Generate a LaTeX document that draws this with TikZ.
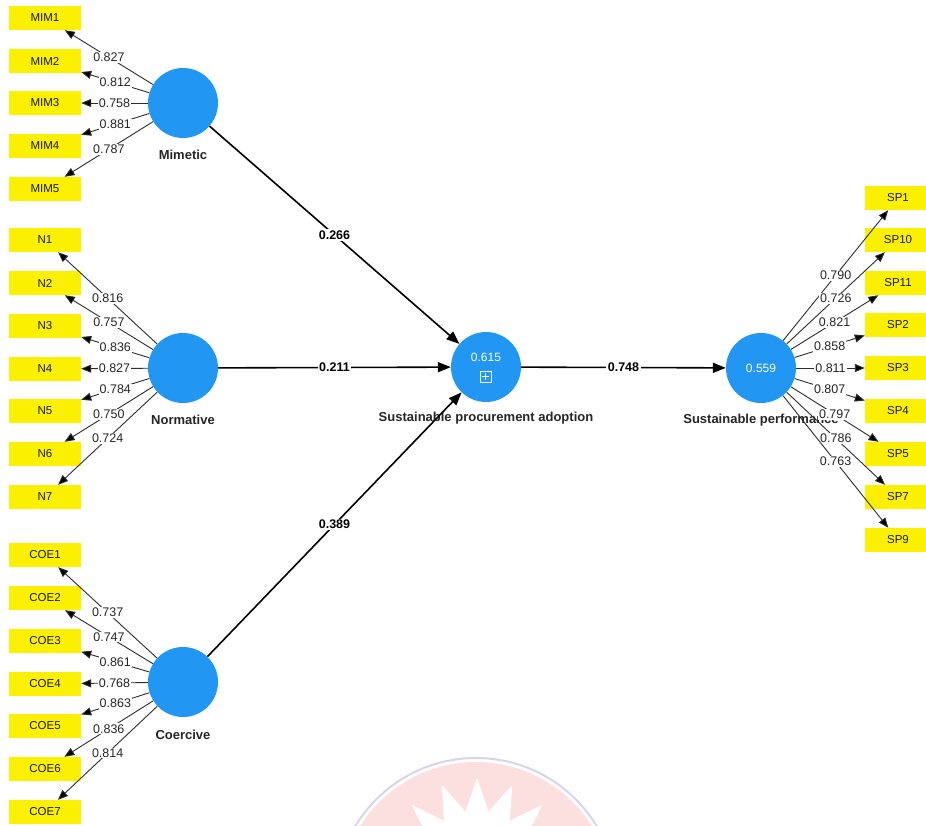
\documentclass[tikz,border=0pt]{standalone}
\usepackage{fontspec}
\setmainfont{Liberation Sans}
\usetikzlibrary{arrows.meta,shapes.geometric}
\definecolor{lvblue}{RGB}{33,150,243}
\definecolor{indyel}{RGB}{250,240,0}
\definecolor{wmpink}{RGB}{252,224,224}
\definecolor{wmring}{RGB}{214,214,232}
\definecolor{loadgray}{RGB}{45,45,45}
\begin{document}
\begin{tikzpicture}[x=1pt,y=-1pt,
  lv/.style={circle,fill=lvblue,minimum size=70pt,inner sep=0pt},
  ind/.style={rectangle,fill=indyel,minimum width=72pt,minimum height=24pt,inner sep=0pt,font=\fontsize{11.5}{12}\selectfont,text=black!90},
  spind/.style={ind,minimum width=66pt},
  loadarrow/.style={draw=loadgray,line width=0.9pt,-{Triangle[length=10pt,width=8pt,fill=black]}},
  loadlab/.style={fill=white,inner sep=1pt,font=\fontsize{12.5}{13}\selectfont,text=black!85},
  structarrow/.style={draw=black,line width=1.6pt,-{Triangle[length=13pt,width=10pt]}},
  structlab/.style={fill=white,inner sep=1.5pt,font=\bfseries\fontsize{12.5}{13}\selectfont},
  lvlab/.style={font=\bfseries\fontsize{13}{14}\selectfont,text=black!85},
  lvval/.style={font=\fontsize{12}{13}\selectfont,text=white}
]
\useasboundingbox (0,0) rectangle (926,825);
\clip (0,0) rectangle (926,825);
\fill[white] (0,0) rectangle (926,825);

% watermark
\fill[wmpink] (476,899) circle (137);
\draw[wmring,line width=2pt] (476,899) circle (141);
\node[star,star points=16,star point ratio=1.55,fill=white,minimum size=184pt,inner sep=0pt] (wmstar) at (477,870) {};

% latent variables
\node[lv] (mim) at (183,103) {};
\node[lv] (nor) at (183,368) {};
\node[lv] (coe) at (183,682) {};
\node[lv] (spa) at (486,367) {};
\node[lv] (sp) at (761,368) {};

\node[lvval] (spaval) at (486,357) {0.615};
\draw[white,line width=0.8pt] (480,371) rectangle (491,382);
\draw[white,line width=0.8pt] (485.5,373) -- (485.5,380) (482,376.5) -- (489,376.5);
\node[lvval] (spval) at (761,368) {0.559};

\node[lvlab] (mimlab) at (183,155) {Mimetic};
\node[lvlab] (norlab) at (183,420) {Normative};
\node[lvlab] (coelab) at (183,735) {Coercive};
\node[lvlab] (spalab) at (486,418) {Sustainable procurement adoption};
\node[lvlab] (splab) at (761,420) {Sustainable performance};

% indicators
\foreach \i/\y in {1/18,2/61,3/103,4/146,5/189}
  \node[ind] (MIM\i) at (45,\y) {MIM\i};
\foreach \i/\y in {1/240,2/283,3/326,4/369,5/411,6/454,7/497}
  \node[ind] (N\i) at (45,\y) {N\i};
\foreach \i/\y in {1/555,2/598,3/641,4/684,5/726,6/769,7/812}
  \node[ind] (COE\i) at (45,\y) {COE\i};
\foreach \n/\y in {1/198,10/240,11/283,2/325,3/368,4/411,5/454,7/497,9/540}
  \node[spind] (SP\n) at (898,\y) {SP\n};

% loadings
\foreach \i/\v in {1/0.827,2/0.812,3/0.758,4/0.881,5/0.787}
  \draw[loadarrow] (mim) -- node[loadlab] {\v} (MIM\i);
\foreach \i/\v in {1/0.816,2/0.757,3/0.836,4/0.827,5/0.784,6/0.750,7/0.724}
  \draw[loadarrow] (nor) -- node[loadlab] {\v} (N\i);
\foreach \i/\v in {1/0.737,2/0.747,3/0.861,4/0.768,5/0.863,6/0.836,7/0.814}
  \draw[loadarrow] (coe) -- node[loadlab] {\v} (COE\i);
\foreach \n/\v in {1/0.790,10/0.726,11/0.821,2/0.858,3/0.811,4/0.807,5/0.797,7/0.786,9/0.763}
  \draw[loadarrow] (sp) -- node[loadlab] {\v} (SP\n);

% structural paths
\draw[structarrow] (mim) -- node[structlab] {0.266} (spa);
\draw[structarrow] (nor) -- node[structlab] {0.211} (spa);
\draw[structarrow] (coe) -- node[structlab] {0.389} (spa);
\draw[structarrow] (spa) -- node[structlab] {0.748} (sp);
\end{tikzpicture}
\end{document}
